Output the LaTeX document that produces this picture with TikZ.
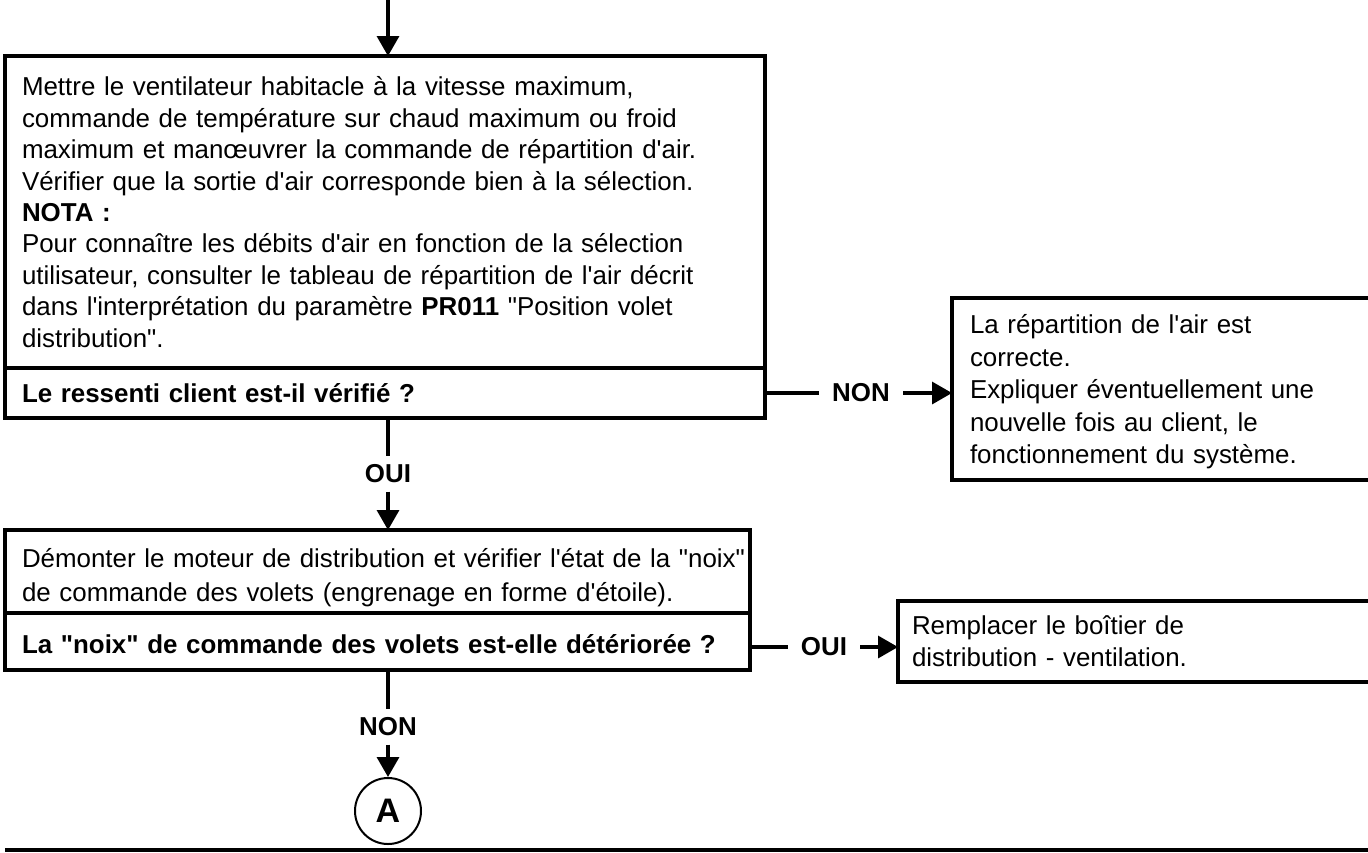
\documentclass[tikz,border=0pt]{standalone}
\usepackage{fontspec}
\setmainfont{Liberation Sans}[Ligatures=TeXOff]
\usetikzlibrary{positioning, arrows.meta}

\newcommand{\lift}[1]{\rule{0pt}{#1}}

\begin{document}
\begin{tikzpicture}[
                    x=0.5pt, y=-0.5pt,
                    >={Triangle[width=11pt,length=10pt]},
                    box/.style={draw, line width=1.75pt, outer sep=0pt,
                                anchor=north west, align=left,
                                inner xsep=8.5pt, inner ysep=0pt,
                                font=\fontsize{12.95}{15.7}\selectfont},
                    ask/.style={box, font=\fontsize{12.95}{16}\selectfont\bfseries},
                    lbl/.style={inner xsep=6.5pt, inner ysep=4pt,
                                font=\fontsize{12.95}{16}\selectfont\bfseries},
                    link/.style={line width=1.7pt},
                ]
                \useasboundingbox (0,0) rectangle (1368,852);

                % first test
                \coordinate (entry) at (388,0);
                \node[box, text width=363pt, minimum height=156pt] (act1) at (5,56)
                    {Mettre le ventilateur habitacle à la vitesse maximum,\\
                     commande de température sur chaud maximum ou froid\\
                     maximum et manœuvrer la commande de répartition d'air.\\
                     Vérifier que la sortie d'air corresponde bien à la sélection.\\
                     \textbf{NOTA :}\\
                     Pour connaître les débits d'air en fonction de la sélection\\
                     utilisateur, consulter le tableau de répartition de l'air décrit\\
                     dans l'interprétation du paramètre \textbf{PR011} "Position volet\\
                     distribution".};
                \node[ask, text width=363pt, minimum height=25pt] (q1) at (act1.south west)
                    {Le ressenti client est-il vérifié ?};
                \node[box, text width=197pt, minimum height=91pt, inner xsep=9pt,
                      font=\fontsize{12.95}{16.25}\selectfont] (res1) at (952,298)
                    {\lift{12.5pt}La répartition de l'air est\\
                     correcte.\\
                     Expliquer éventuellement une\\
                     nouvelle fois au client, le\\
                     fonctionnement du système.};

                % second test
                \node[box, text width=355.5pt, minimum height=41.5pt,
                      font=\fontsize{12.95}{17}\selectfont] (act2) at (5,530)
                    {\lift{15.5pt}\mbox{Démonter le moteur de distribution et vérifier l'état de la "noix"}\\
                     de commande des volets (engrenage en forme d'étoile).};
                \node[ask, text width=355.5pt, minimum height=28.5pt] (q2) at (act2.south west)
                    {\lift{12.5pt}\mbox{La "noix" de commande des volets est-elle détériorée ?}};
                \node[box, text width=228pt, minimum height=40.5pt, inner xsep=7pt,
                      font=\fontsize{12.95}{16}\selectfont] (rep) at (898,601)
                    {Remplacer le boîtier de\\
                     distribution - ventilation.};

                % answers
                \node[lbl] (nonA) at (861,0 |- q1.east) {NON};
                \node[lbl] (ouiA) at (388,474) {OUI};
                \node[lbl] (ouiB) at (824,647) {OUI};
                \node[lbl] (nonB) at (388,727) {NON};
                \node[draw, circle, line width=1pt, minimum size=33pt, inner sep=0pt,
                      font=\fontsize{17}{17}\selectfont\bfseries] (A) at (388,811) {A};

                \draw[link,->] (entry) -- (entry |- act1.north);
                \draw[link] (q1.east) -- (nonA.west);
                \draw[link,->] (nonA.east) -- (res1.west |- nonA.east);
                \draw[link] (ouiA |- q1.south) -- (ouiA.north);
                \draw[link,->] (ouiA.south) -- (ouiA |- act2.north);
                \draw[link] (q2.east |- ouiB) -- (ouiB.west);
                \draw[link,->] (ouiB.east) -- (rep.west |- ouiB.east);
                \draw[link] (nonB |- q2.south) -- (nonB.north);
                \draw[link,->] (nonB.south) -- (A.north);

                \draw[line width=2pt] (5,850) -- (1368,850);
            \end{tikzpicture}
\end{document}
